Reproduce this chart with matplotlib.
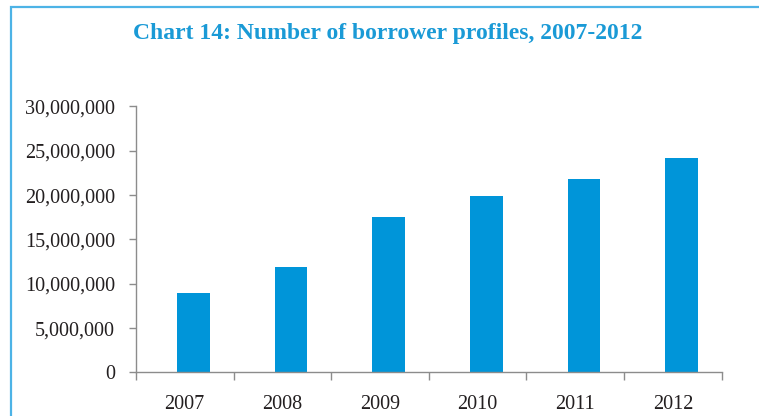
import matplotlib
matplotlib.use('Agg')
import matplotlib.pyplot as plt
import matplotlib.patches as patches
from matplotlib.ticker import FuncFormatter

YEARS = ['2007', '2008', '2009', '2010', '2011', '2012']
PROFILES = [9.0e6, 11.85e6, 17.5e6, 19.9e6, 21.8e6, 24.2e6]
Y_TICKS = [0, 5e6, 10e6, 15e6, 20e6, 25e6, 30e6]
TITLE = 'Chart 14: Number of borrower profiles, 2007-2012'

BAR_COLOR = '#0095d9'
TITLE_COLOR = '#1a9ad6'
BORDER_COLOR = '#4db3e6'
AXIS_COLOR = '#8c8c8c'
TEXT_COLOR = '#231f20'
BAR_SHIFT = 0.09  # bars sit a little right of the category centre


def main():
    plt.rcParams['font.family'] = ['Liberation Serif', 'DejaVu Serif']

    fig = plt.figure(figsize=(7.59, 4.16), dpi=100)
    ax = fig.add_axes([0.179, 0.1046, 0.772, 0.6394])

    # frame around the chart, cropped at the right and bottom
    fig.patches.append(patches.Rectangle(
        (11 / 759, -0.1), 1.2, 1 - 7 / 416 + 0.1,
        transform=fig.transFigure, fill=False,
        edgecolor=BORDER_COLOR, linewidth=1.6
    ))

    fig.text(388 / 759, 1 - 34 / 416, TITLE, ha='center', va='center',
             fontsize=17, fontweight='bold', color=TITLE_COLOR)

    x = list(range(len(YEARS)))
    ax.bar([i + BAR_SHIFT for i in x], PROFILES, width=0.335, color=BAR_COLOR)

    ax.set_xlim(-0.5, len(YEARS) - 0.5)
    ax.set_ylim(0, 30e6)

    ax.set_yticks(Y_TICKS)
    ax.yaxis.set_major_formatter(FuncFormatter(lambda v, p: '{:,.0f}'.format(v)))
    ax.tick_params(axis='y', length=5, width=1, color=AXIS_COLOR, pad=10,
                   labelsize=14.5, labelcolor=TEXT_COLOR)

    ax.set_xticks([i - 0.5 for i in range(len(YEARS) + 1)])
    ax.set_xticklabels([])
    ax.set_xticks(x, minor=True)
    ax.set_xticklabels(YEARS, minor=True)
    ax.tick_params(axis='x', which='major', length=6, width=1, color=AXIS_COLOR)
    ax.tick_params(axis='x', which='minor', length=0, pad=16.5,
                   labelsize=14.5, labelcolor=TEXT_COLOR)

    for side in ['top', 'right']:
        ax.spines[side].set_visible(False)
    for side in ['left', 'bottom']:
        ax.spines[side].set_color(AXIS_COLOR)
        ax.spines[side].set_linewidth(1)

    fig.savefig('out.png', dpi=100)


if __name__ == '__main__':
    main()
